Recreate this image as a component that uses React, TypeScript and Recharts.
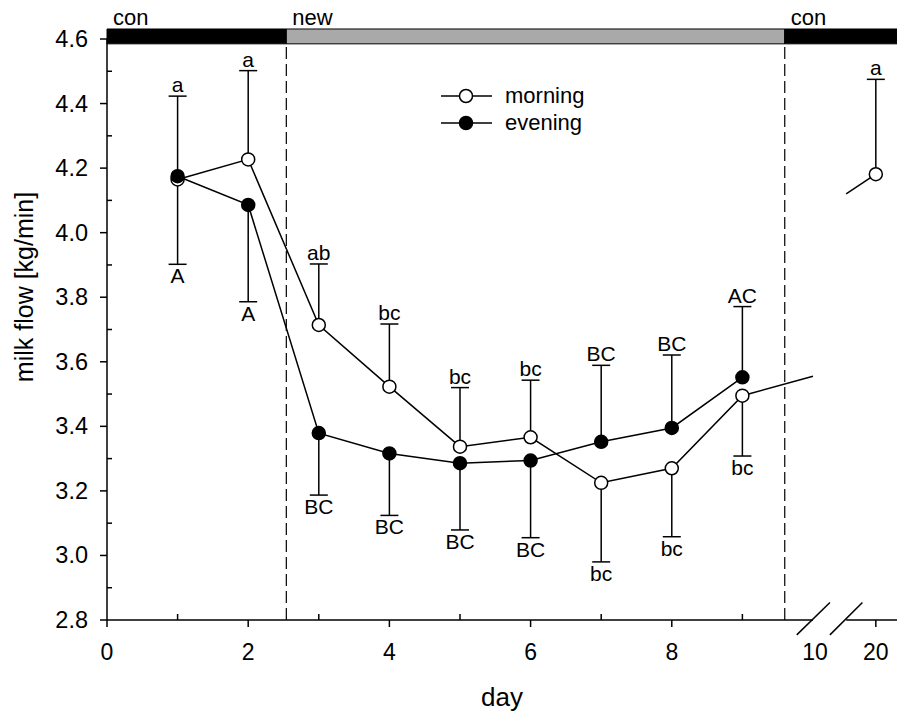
import { ComposedChart, Line, Scatter, XAxis, YAxis, ReferenceArea, ReferenceLine, Legend } from 'recharts';

const FONT = '"Liberation Sans", Arial, Helvetica, sans-serif';

// measured values
const days = [1, 2, 3, 4, 5, 6, 7, 8, 9];
const morning = [4.165, 4.227, 3.714, 3.523, 3.337, 3.366, 3.225, 3.27, 3.495];
const evening = [4.175, 4.086, 3.379, 3.316, 3.286, 3.294, 3.352, 3.395, 3.552];
const morningBarEnd = [4.423, 4.502, 3.903, 3.717, 3.52, 3.543, 2.98, 3.058, 3.308];
const eveningBarEnd = [3.902, 3.786, 3.187, 3.124, 3.079, 3.055, 3.589, 3.621, 3.771];
const morningLetters = ['a', 'a', 'ab', 'bc', 'bc', 'bc', 'bc', 'bc', 'bc'];
const eveningLetters = ['A', 'A', 'BC', 'BC', 'BC', 'BC', 'BC', 'BC', 'AC'];

// day 20 sits past the axis break
const day20Pos = 10.89;
const day20Morning = 4.181;
const day20BarEnd = 4.475;
const day20Letter = 'a';
const morningTail = { x: 10.0, y: 3.555 };
const day20Lead = { x: 10.47, y: 4.12 };

// x axis
const X_MAX = 11.19;
const breakLeft = 10.0;
const breakRight = 10.47;
const xTickValues = [0, 1, 2, 3, 4, 5, 6, 7, 8, 9, 10.03, 10.89];
const xTickLabels: Record<string, string> = { '0': '0', '2': '2', '4': '4', '6': '6', '8': '8', '10.03': '10', '10.89': '20' };
const yTicks = [2.8, 2.9, 3.0, 3.1, 3.2, 3.3, 3.4, 3.5, 3.6, 3.7, 3.8, 3.9, 4.0, 4.1, 4.2, 4.3, 4.4, 4.5, 4.6];

// treatment phases on top
const phaseNames = ['con', 'new', 'con'];
const phaseBounds = [0, 2.54, 9.6, X_MAX];
const phaseFill = ['#000000', '#a9a9a9', '#000000'];

const morningRows = [
    ...days.map((d, i) => ({ x: d, y: morning[i], marker: true })),
    { ...morningTail, marker: false },
];
const eveningRows = days.map((d, i) => ({ x: d, y: evening[i], marker: true }));
const day20Rows = [
    { ...day20Lead, marker: false },
    { x: day20Pos, y: day20Morning, marker: true },
];

const stems = (xs: number[], ys: number[], ends: number[]) =>
    xs.flatMap((x, i) => [
        { x, y: ys[i] },
        { x, y: ends[i] },
        { x, y: null },
    ]);

const stemRows = [
    ...stems(days, morning, morningBarEnd),
    ...stems(days, evening, eveningBarEnd),
    ...stems([day20Pos], [day20Morning], [day20BarEnd]),
];

const capRows = [
    ...days.map((d, i) => ({ x: d, y: morningBarEnd[i], label: morningLetters[i], up: morningBarEnd[i] > morning[i] })),
    ...days.map((d, i) => ({ x: d, y: eveningBarEnd[i], label: eveningLetters[i], up: eveningBarEnd[i] > evening[i] })),
    { x: day20Pos, y: day20BarEnd, label: day20Letter, up: true },
];

function Cap(props: any) {
    const { cx, cy, payload } = props;
    return (
        <g>
            <line x1={cx - 9} x2={cx + 9} y1={cy} y2={cy} stroke="#000" strokeWidth={1.5} />
            <text
                x={cx}
                y={payload.up ? cy - 4 : cy + 19}
                textAnchor="middle"
                fontSize={21}
                fontFamily={FONT}
                fill="#000"
            >
                {payload.label}
            </text>
        </g>
    );
}

const makeDot = (fill: string) => (p: any) => {
    if (!p.payload.marker) return <g key={`d-${p.index}`} />;
    return <circle key={`d-${p.index}`} cx={p.cx} cy={p.cy} r={6.5} fill={fill} stroke="#000" strokeWidth={1.5} />;
};

function XTick(props: any) {
    const { x, y, payload } = props;
    const v = payload.value;
    const label = xTickLabels[String(v)];
    const isMinor = Number.isInteger(v) && v % 2 === 1;
    const noTick = v === 10.03;
    return (
        <g>
            {!noTick && (
                <line x1={x} x2={x} y1={y} y2={isMinor ? y - 6 : y + 7} stroke="#000" strokeWidth={1.5} />
            )}
            {label && (
                <text x={x} y={y + 40} textAnchor="middle" fontSize={23} fontFamily={FONT} fill="#000">
                    {label}
                </text>
            )}
        </g>
    );
}

function YTick(props: any) {
    const { x, y, payload } = props;
    const v = payload.value;
    const major = Math.round(v * 10) % 2 === 0;
    return (
        <g>
            <line x1={x} x2={major ? x - 7 : x + 5} y1={y} y2={y} stroke="#000" strokeWidth={1.5} />
            {major && (
                <text x={x - 19} y={y + 8} textAnchor="end" fontSize={23.5} fontFamily={FONT} fill="#000">
                    {v.toFixed(1)}
                </text>
            )}
        </g>
    );
}

function YTitle() {
    return (
        <text
            x={33}
            y={287}
            transform="rotate(-90 33 287)"
            textAnchor="middle"
            fontSize={25}
            fontFamily={FONT}
            fill="#000"
        >
            milk flow [kg/min]
        </text>
    );
}

function PhaseLabel(props: any) {
    const { viewBox, text } = props;
    return (
        <text x={viewBox.x + 6} y={viewBox.y - 4} fontSize={22} fontFamily={FONT} fill="#000">
            {text}
        </text>
    );
}

const legendItems = [
    { name: 'morning', fill: '#ffffff' },
    { name: 'evening', fill: '#000000' },
];

function LegendBox() {
    return (
        <svg width={170} height={60}>
            {legendItems.map((it, i) => {
                const cy = 13 + i * 27;
                return (
                    <g key={it.name}>
                        <line x1={1} x2={52} y1={cy} y2={cy} stroke="#000" strokeWidth={1.5} />
                        <circle cx={26} cy={cy} r={6.5} fill={it.fill} stroke="#000" strokeWidth={1.5} />
                        <text x={65} y={cy + 7} fontSize={22} fontFamily={FONT} fill="#000">
                            {it.name}
                        </text>
                    </g>
                );
            })}
        </svg>
    );
}

export default function App() {
    return (
        <div style={{ position: 'absolute', left: 0, top: 0, background: '#fff' }}>
            <ComposedChart width={897} height={717} margin={{ top: 39, right: 0, bottom: 0, left: 0 }}>
                <XAxis
                    dataKey="x"
                    type="number"
                    domain={[0, X_MAX]}
                    allowDataOverflow
                    ticks={xTickValues}
                    interval={0}
                    tick={<XTick />}
                    tickLine={false}
                    tickSize={0}
                    tickMargin={0}
                    axisLine={false}
                    height={97}
                    label={{ value: 'day', position: 'insideBottom', offset: 11, fontSize: 26, fontFamily: FONT, fill: '#000' }}
                />
                <YAxis
                    type="number"
                    domain={[2.8, 4.6]}
                    allowDataOverflow
                    ticks={yTicks}
                    interval={0}
                    tick={<YTick />}
                    tickLine={false}
                    tickSize={0}
                    tickMargin={0}
                    width={107}
                    axisLine={{ stroke: '#000', strokeWidth: 1.5 }}
                    label={<YTitle />}
                />

                {/* broken x axis */}
                <ReferenceLine
                    segment={[{ x: 0, y: 2.8 }, { x: breakLeft, y: 2.8 }]}
                    stroke="#000"
                    strokeWidth={1.5}
                    ifOverflow="visible"
                />
                <ReferenceLine
                    segment={[{ x: breakRight, y: 2.8 }, { x: X_MAX, y: 2.8 }]}
                    stroke="#000"
                    strokeWidth={1.5}
                    ifOverflow="visible"
                />
                <ReferenceLine
                    segment={[{ x: breakLeft - 0.23, y: 2.754 }, { x: breakLeft + 0.24, y: 2.854 }]}
                    stroke="#000"
                    strokeWidth={1.5}
                    ifOverflow="visible"
                />
                <ReferenceLine
                    segment={[{ x: breakRight - 0.23, y: 2.754 }, { x: breakRight + 0.23, y: 2.854 }]}
                    stroke="#000"
                    strokeWidth={1.5}
                    ifOverflow="visible"
                />

                {/* phase boundaries */}
                {[phaseBounds[1], phaseBounds[2]].map((b) => (
                    <ReferenceLine
                        key={b}
                        segment={[{ x: b, y: 2.8 }, { x: b, y: 4.585 }]}
                        stroke="#000"
                        strokeWidth={1.2}
                        strokeDasharray="12 5"
                        ifOverflow="visible"
                    />
                ))}

                {phaseNames.map((name, i) => (
                    <ReferenceArea
                        key={i}
                        x1={phaseBounds[i]}
                        x2={phaseBounds[i + 1]}
                        y1={4.585}
                        y2={4.631}
                        fill={phaseFill[i]}
                        fillOpacity={1}
                        stroke="#000"
                        strokeWidth={1}
                        ifOverflow="visible"
                        label={<PhaseLabel text={name} />}
                    />
                ))}

                <Line
                    data={stemRows}
                    dataKey="y"
                    stroke="#000"
                    strokeWidth={1.5}
                    dot={false}
                    connectNulls={false}
                    isAnimationActive={false}
                    legendType="none"
                />
                <Scatter data={capRows} dataKey="y" shape={<Cap />} isAnimationActive={false} legendType="none" />

                <Line
                    data={morningRows}
                    dataKey="y"
                    type="linear"
                    stroke="#000"
                    strokeWidth={1.5}
                    dot={makeDot('#ffffff')}
                    isAnimationActive={false}
                />
                <Line
                    data={day20Rows}
                    dataKey="y"
                    type="linear"
                    stroke="#000"
                    strokeWidth={1.5}
                    dot={makeDot('#ffffff')}
                    isAnimationActive={false}
                />
                <Line
                    data={eveningRows}
                    dataKey="y"
                    type="linear"
                    stroke="#000"
                    strokeWidth={1.5}
                    dot={makeDot('#000000')}
                    isAnimationActive={false}
                />

                <Legend
                    content={<LegendBox />}
                    layout="horizontal"
                    verticalAlign="middle"
                    align="center"
                    wrapperStyle={{ left: 440, top: 83, width: 170, height: 60 }}
                />
            </ComposedChart>
        </div>
    );
}
